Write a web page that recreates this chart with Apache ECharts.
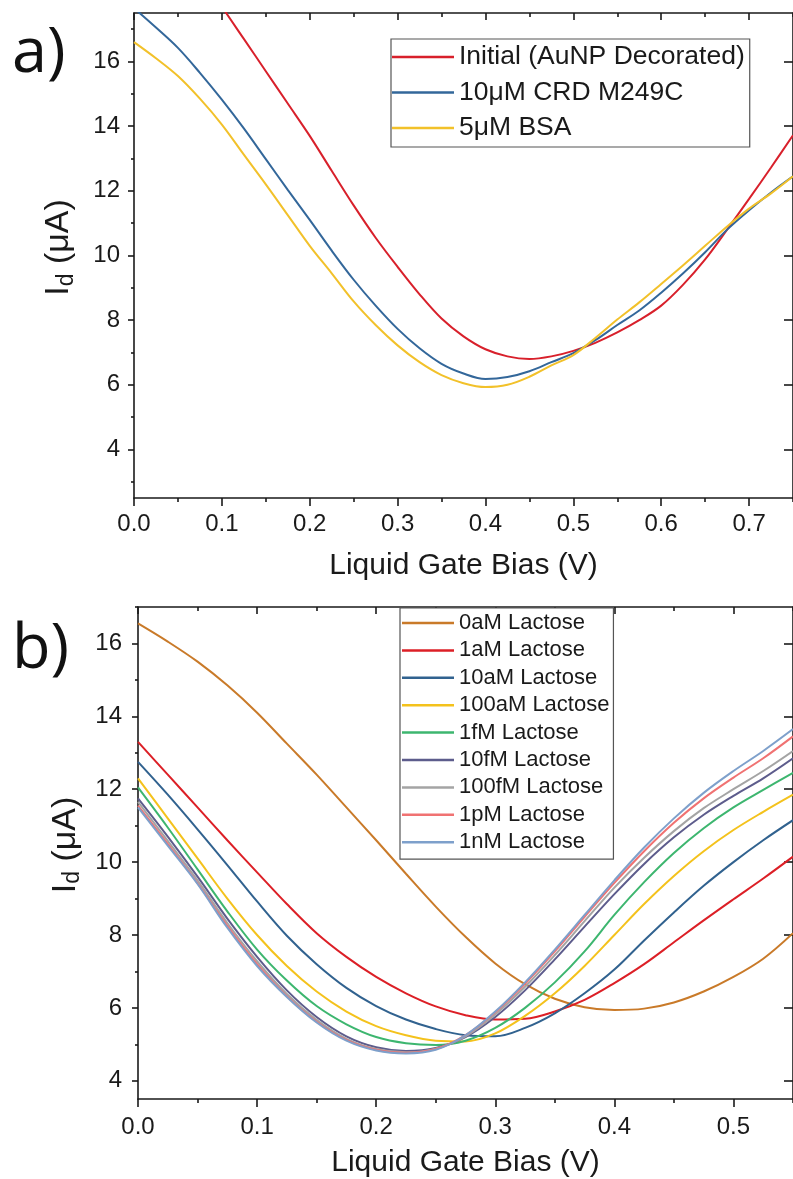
<!DOCTYPE html>
<html>
<head>
<meta charset="utf-8">
<script src="https://cdn.jsdelivr.net/npm/echarts@6/dist/echarts.min.js"></script>
<style>
html,body{margin:0;padding:0;background:#fff;}
#chart{width:793px;height:1179px;}
</style>
</head>
<body>
<div id="chart"></div>
<script>
// ---------------- Panel a data ----------------
const aBias = [0,0.025,0.05,0.075,0.1,0.125,0.15,0.175,0.2,0.225,0.25,0.275,0.3,0.325,0.35,0.375,0.4,0.425,0.45,0.475,0.5,0.525,0.55,0.575,0.6,0.625,0.65,0.675,0.7,0.725,0.75];
const aInitial = [21.8,20.8,19.8,18.75,17.7,16.7,15.7,14.7,13.7,12.62,11.55,10.55,9.65,8.8,8.05,7.5,7.1,6.88,6.8,6.88,7.05,7.3,7.62,8.0,8.45,9.1,9.88,10.8,11.75,12.72,13.72];
const aCRD = [17.65,17.05,16.42,15.65,14.82,13.93,12.98,12.03,11.1,10.15,9.25,8.45,7.73,7.13,6.65,6.35,6.18,6.24,6.42,6.7,6.98,7.38,7.85,8.3,8.85,9.45,10.1,10.8,11.4,11.95,12.45];
const aBSA = [16.6,16.1,15.55,14.85,14.05,13.12,12.2,11.25,10.3,9.45,8.58,7.85,7.22,6.7,6.3,6.05,5.93,6.0,6.25,6.6,6.92,7.45,8.02,8.55,9.12,9.7,10.3,10.9,11.45,11.92,12.45];
const aNames = ['Initial (AuNP Decorated)','10μM CRD M249C','5μM BSA'];
const aColors = ['#d8202b','#33679a','#f2c12a'];
const aXMajor = [0,0.1,0.2,0.3,0.4,0.5,0.6,0.7];
const aXMinor = [0.05,0.15,0.25,0.35,0.45,0.55,0.65,0.75];
const aYMajor = [4,6,8,10,12,14,16];
const aYMinor = [3,5,7,9,11,13,15,17];

// ---------------- Panel b data ----------------
const bBias = [0,0.025,0.05,0.075,0.1,0.125,0.15,0.175,0.2,0.225,0.25,0.275,0.3,0.325,0.35,0.375,0.4,0.425,0.45,0.475,0.5,0.525,0.55];
const b0aM   = [16.55,16.05,15.5,14.85,14.1,13.25,12.4,11.5,10.6,9.68,8.78,7.95,7.22,6.65,6.25,6.02,5.94,5.98,6.15,6.45,6.85,7.35,8.05];
const b1aM   = [13.3,12.4,11.5,10.6,9.72,8.85,8.05,7.4,6.85,6.4,6.04,5.8,5.68,5.7,5.9,6.22,6.68,7.2,7.8,8.4,8.98,9.55,10.15];
const b10aM  = [12.75,11.85,10.9,9.92,8.92,7.98,7.2,6.55,6.05,5.68,5.42,5.25,5.22,5.45,5.85,6.4,7.05,7.85,8.62,9.35,10.0,10.6,11.15];
const b100aM = [12.3,11.2,10.1,9.0,8.0,7.15,6.45,5.9,5.5,5.25,5.1,5.08,5.3,5.78,6.4,7.15,8.0,8.85,9.62,10.3,10.88,11.38,11.85];
const b1fM   = [12.05,10.95,9.8,8.65,7.6,6.75,6.05,5.55,5.2,5.03,4.98,5.1,5.45,6.0,6.7,7.55,8.55,9.45,10.25,10.93,11.5,11.98,12.45];
const b10fM  = [11.75,10.7,9.6,8.45,7.4,6.48,5.75,5.22,4.92,4.82,4.9,5.2,5.75,6.48,7.33,8.23,9.12,9.95,10.68,11.3,11.82,12.3,12.85];
const b100fM = [11.65,10.58,9.5,8.33,7.28,6.38,5.67,5.15,4.87,4.78,4.88,5.22,5.82,6.58,7.45,8.38,9.3,10.12,10.85,11.48,12.0,12.5,13.05];
const b1pM   = [11.55,10.5,9.42,8.25,7.2,6.32,5.62,5.12,4.85,4.77,4.87,5.25,5.88,6.66,7.55,8.5,9.43,10.3,11.08,11.75,12.32,12.85,13.45];
const b1nM   = [11.5,10.45,9.4,8.2,7.15,6.3,5.6,5.1,4.83,4.75,4.85,5.25,5.9,6.7,7.6,8.55,9.5,10.4,11.2,11.9,12.5,13.05,13.65];
const bNames = ['0aM Lactose','1aM Lactose','10aM Lactose','100aM Lactose','1fM Lactose','10fM Lactose','100fM Lactose','1pM Lactose','1nM Lactose'];
const bColors = ['#c97a29','#dc1f26','#31628f','#f4c21c','#3db66f','#5d5c8c','#a4a4a4','#f07272','#7ea0cb'];
const bXMajor = [0,0.1,0.2,0.3,0.4,0.5];
const bXMinor = [0.05,0.15,0.25,0.35,0.45,0.55];
const bYMajor = [4,6,8,10,12,14,16];
const bYMinor = [5,7,9,11,13,15,17];

const xTitle = 'Liquid Gate Bias (V)';
const yTitle = '{i0|I}{d|d}{i| (μA)}';

// ---------------- helpers ----------------
const FONT = 'Liberation Sans';
const INK = '#1a1a1a';
const lineW = 1.6;

function xAxes(grid, max, majors, minors, nameGap, labelMargin) {
  const base = {type:'value', gridIndex:grid, min:0, max:max, splitLine:{show:false}};
  return [
    Object.assign({}, base, {
      position:'bottom',
      axisLine:{show:true, onZero:false, lineStyle:{color:INK, width:lineW}},
      axisTick:{show:true, inside:false, length:8, customValues:majors, lineStyle:{color:INK, width:lineW}},
      axisLabel:{show:true, customValues:majors, margin:labelMargin, fontSize:24, color:INK, fontFamily:FONT,
                 formatter:function(v){return Number(v).toFixed(1);}},
      name:xTitle, nameLocation:'middle', nameGap:nameGap,
      nameTextStyle:{fontSize:30, color:INK, fontFamily:FONT}
    }),
    Object.assign({}, base, {
      position:'bottom',
      axisLine:{show:false, onZero:false},
      axisTick:{show:true, inside:false, length:4, customValues:minors, lineStyle:{color:INK, width:lineW}},
      axisLabel:{show:false}
    }),
    Object.assign({}, base, {
      position:'top',
      axisLine:{show:true, onZero:false, lineStyle:{color:INK, width:lineW}},
      axisTick:{show:true, inside:true, length:7, customValues:majors, lineStyle:{color:INK, width:lineW}},
      axisLabel:{show:false}
    }),
    Object.assign({}, base, {
      position:'top',
      axisLine:{show:false, onZero:false},
      axisTick:{show:true, inside:true, length:4, customValues:minors, lineStyle:{color:INK, width:lineW}},
      axisLabel:{show:false}
    })
  ];
}

function yAxes(grid, min, max, majors, minors, nameGap, labelMargin) {
  const base = {type:'value', gridIndex:grid, min:min, max:max, splitLine:{show:false}};
  return [
    Object.assign({}, base, {
      position:'left',
      axisLine:{show:true, onZero:false, lineStyle:{color:INK, width:lineW}},
      axisTick:{show:true, inside:false, length:6, customValues:majors, lineStyle:{color:INK, width:lineW}},
      axisLabel:{show:true, customValues:majors, margin:labelMargin, fontSize:24, color:INK, fontFamily:FONT},
      name:yTitle, nameLocation:'middle', nameGap:nameGap,
      nameTextStyle:{color:INK, fontFamily:FONT,
        rich:{
          i0:{fontSize:34, color:INK, fontFamily:FONT, padding:[0,0,0,16]},
          i:{fontSize:34, color:INK, fontFamily:FONT},
          d:{fontSize:23, color:INK, fontFamily:FONT, padding:[15,0,0,0]}
        }}
    }),
    Object.assign({}, base, {
      position:'left',
      axisLine:{show:false, onZero:false},
      axisTick:{show:true, inside:false, length:3, customValues:minors, lineStyle:{color:INK, width:lineW}},
      axisLabel:{show:false}
    }),
    Object.assign({}, base, {
      position:'right',
      axisLine:{show:true, onZero:false, lineStyle:{color:INK, width:lineW}},
      axisTick:{show:true, inside:true, length:9, customValues:majors, lineStyle:{color:INK, width:lineW}},
      axisLabel:{show:false}
    })
  ];
}

function zip(xs, ys) { return xs.map(function(x, i){ return [x, ys[i]]; }); }

const series = [];
[aInitial, aCRD, aBSA].forEach(function(arr, i){
  series.push({
    type:'line', name:aNames[i], xAxisIndex:0, yAxisIndex:0,
    data:zip(aBias, arr), showSymbol:false, symbol:'none', smooth:0.35, clip:true,
    lineStyle:{color:aColors[i], width:2}, itemStyle:{color:aColors[i]}
  });
});
[b0aM, b1aM, b10aM, b100aM, b1fM, b10fM, b100fM, b1pM, b1nM].forEach(function(arr, i){
  series.push({
    type:'line', name:bNames[i], xAxisIndex:4, yAxisIndex:3,
    data:zip(bBias, arr), showSymbol:false, symbol:'none', smooth:0.35, clip:true,
    lineStyle:{color:bColors[i], width:2}, itemStyle:{color:bColors[i]}
  });
});

const option = {
  animation:false,
  backgroundColor:'#ffffff',
  grid:[
    {left:134, top:13, right:-4, bottom:681, containLabel:false},
    {left:138, top:607, right:-8, bottom:79, containLabel:false}
  ],
  xAxis: xAxes(0, 0.75, aXMajor, aXMinor, 53, 14).concat(xAxes(1, 0.55, bXMajor, bXMinor, 49, 16)),
  yAxis: yAxes(0, 2.5, 17.5, aYMajor, aYMinor, 56, 14).concat(yAxes(1, 3.5, 17, bYMajor, bYMinor, 42, 16)),
  legend:[
    {
      data:aNames, orient:'vertical', left:391, top:39, icon:'rect',
      itemWidth:62, itemHeight:2.5, itemGap:5.5, padding:[3,5,4,1],
      borderColor:'#555', borderWidth:1.2, backgroundColor:'#fff', selectedMode:false,
      textStyle:{fontSize:26.5, lineHeight:30, color:INK, fontFamily:FONT}
    },
    {
      data:bNames, orient:'vertical', left:400, top:608, icon:'rect',
      itemWidth:52, itemHeight:2.5, itemGap:3.4, padding:[3,4,5,2],
      borderColor:'#555', borderWidth:1.2, backgroundColor:'#fff', selectedMode:false,
      textStyle:{fontSize:22, lineHeight:24, color:INK, fontFamily:FONT}
    }
  ],
  graphic:[
    {type:'text', x:12, y:54, style:{text:'a)', fontSize:63, fontFamily:'Open Sans', fill:'#111', align:'left', verticalAlign:'middle'}},
    {type:'text', x:12, y:650, style:{text:'b)', fontSize:63, fontFamily:'Open Sans', fill:'#111', align:'left', verticalAlign:'middle'}}
  ],
  series:series
};

const chart = echarts.init(document.getElementById('chart'), null, {renderer:'canvas', width:793, height:1179});
chart.setOption(option);
</script>
</body>
</html>
